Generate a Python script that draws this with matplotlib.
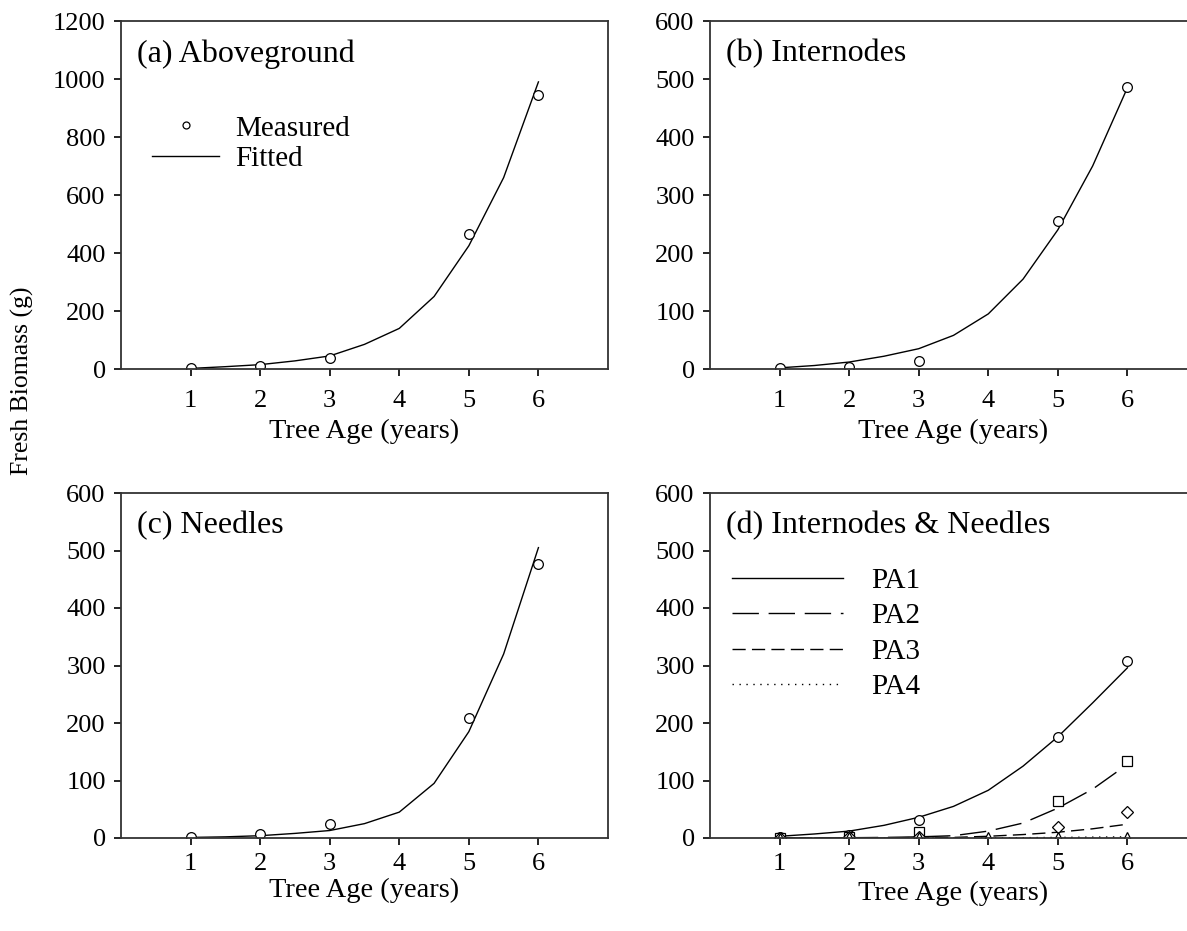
import numpy as np
import matplotlib.pyplot as plt
from matplotlib.lines import Line2D

plt.rcParams['font.family'] = ['Liberation Serif', 'DejaVu Serif']

# measured ages and values
age_m = [1, 2, 3, 5, 6]
above_m = [3, 10, 38, 465, 945]
intern_m = [2, 3, 14, 255, 487]
needle_m = [2, 7, 24, 209, 477]

# fitted curves read at half-year steps
age_f = [1, 1.5, 2, 2.5, 3, 3.5, 4, 4.5, 5, 5.5, 6]
above_f = [2, 8, 15, 28, 45, 85, 140, 250, 425, 660, 990]
intern_f = [2, 6, 12, 22, 35, 58, 95, 155, 240, 350, 485]
needle_f = [1, 2, 4, 8, 13, 25, 45, 95, 185, 320, 505]

# panel (d): position classes
age_pa = [1, 2, 3, 4, 5, 6]
pa1_m = [2, 5, 31, np.nan, 176, 307]
pa2_m = [0, 2, 10, np.nan, 64, 134]
pa3_m = [0, 1, 1, np.nan, 19, 45]
pa4_m = [0, 1, 1, 1, 1, 2]
pa1_f = [3, 7, 12, 22, 36, 55, 83, 125, 176, 235, 296]
pa2_f = [0, 0, 0.5, 1, 2, 4, 12, 26, 52, 85, 128]
pa3_f = [0, 0, 0, 0, 1, 1, 3, 6, 10, 16, 24]
pa4_f = [0, 0, 0, 0, 0, 0, 0, 0.5, 1, 1.5, 2]

W, H = 1187, 931
fig = plt.figure(figsize=(W / 100, H / 100), dpi=100)

def make_ax(l, b, w, h, xpad):
    ax = fig.add_axes([l / W, 1 - b / H, w / W, h / H])
    ax.set_xlim(0, 7)
    ax.set_xticks([1, 2, 3, 4, 5, 6])
    ax.tick_params(direction='out', length=5, width=1.2, labelsize=19, pad=6)
    ax.tick_params(axis='x', pad=xpad)
    for s in ax.spines.values():
        s.set_linewidth(1.3)
        s.set_color('#333333')
    return ax

axa = make_ax(121, 369, 487, 348, 10)
axb = make_ax(710, 369, 487, 348, 10)
axc = make_ax(121, 838, 487, 345, 6)
axd = make_ax(710, 838, 487, 345, 6)

mk = dict(marker='o', ls='none', mfc='white', mec='black', ms=7, mew=0.9)
ls2 = (0, (19, 7))
ls3 = (0, (9.5, 4.5))
ls4 = (0, (1, 4))

axa.plot(age_f, above_f, color='black', lw=1.0)
axa.plot(age_m, above_m, **mk)
axa.set_ylim(0, 1200)
axa.set_yticks(range(0, 1201, 200))

axb.plot(age_f, intern_f, color='black', lw=1.0)
axb.plot(age_m, intern_m, **mk)
axb.set_ylim(0, 600)

axc.plot(age_f, needle_f, color='black', lw=1.0)
axc.plot(age_m, needle_m, **mk)
axc.set_ylim(0, 600)

axd.plot(age_f, pa1_f, color='black', lw=1.0, ls='-')
axd.plot(age_f, pa2_f, color='black', lw=1.0, ls=ls2)
axd.plot(age_f, pa3_f, color='black', lw=1.0, ls=ls3)
axd.plot(age_f, pa4_f, color='black', lw=1.0, ls=ls4)
axd.plot(age_pa, pa1_m, **mk)
axd.plot(age_pa, pa2_m, **{**mk, 'marker': 's'})
axd.plot(age_pa, pa3_m, **{**mk, 'marker': 'D', 'ms': 6.5})
axd.plot(age_pa, pa4_m, **{**mk, 'marker': '^'})
axd.set_ylim(0, 600)

for ax in (axb, axc, axd):
    ax.set_yticks(range(0, 601, 100))

titles = ['(a) Aboveground', '(b) Internodes', '(c) Needles', '(d) Internodes & Needles']
for ax, t in zip((axa, axb, axc, axd), titles):
    ax.text(0.033, 0.905, t, transform=ax.transAxes, fontsize=23, va='center', ha='left')

for ax, yoff in ((axa, -0.178), (axb, -0.178), (axc, -0.153), (axd, -0.161)):
    ax.text(0.5, yoff, 'Tree Age (years)', transform=ax.transAxes,
            fontsize=20.5, ha='center', va='center')

fig.text(22 / W, 1 - 381 / H, 'Fresh Biomass (g)', rotation=90, fontsize=18.5,
         ha='center', va='center')

# legend (a)
h_a = [Line2D([], [], **{**mk, 'ms': 5}),
       Line2D([], [], color='black', lw=1.0)]
axa.legend(h_a, ['Measured', 'Fitted'], loc='upper left', bbox_to_anchor=(0.04, 0.763),
           frameon=False, fontsize=21, handlelength=2.3, handletextpad=0.55,
           labelspacing=0.15, borderaxespad=0)

# legend (d)
h_d = [Line2D([], [], color='black', lw=1.0, ls='-'),
       Line2D([], [], color='black', lw=1.0, ls=ls2),
       Line2D([], [], color='black', lw=1.0, ls=ls3),
       Line2D([], [], color='black', lw=1.0, ls=ls4)]
axd.legend(h_d, ['PA1', 'PA2', 'PA3', 'PA4'], loc='upper left', bbox_to_anchor=(0.022, 0.818),
           frameon=False, fontsize=21, handlelength=3.8, handletextpad=0.95,
           labelspacing=0.31, borderaxespad=0)

fig.savefig('out.png', dpi=100)
